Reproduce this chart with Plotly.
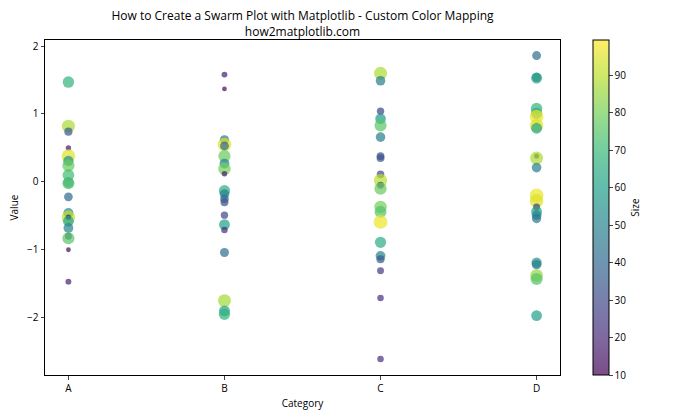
import numpy as np
import plotly.graph_objects as go
import plotly.express as px

categories = ["A", "B", "C", "D"]

values_A = [1.47, 0.82, 0.74, 0.50, 0.38, 0.31, 0.24, 0.10, -0.01, -0.02,
            -0.22, -0.46, -0.52, -0.52, -0.58, -0.68, -0.80, -0.83, -1.00, -1.47]
sizes_A = [68, 88, 35, 15, 95, 55, 78, 72, 58, 75,
           40, 52, 92, 14, 62, 50, 25, 76, 12, 18]

values_B = [1.58, 1.37, 0.62, 0.55, 0.53, 0.38, 0.27, 0.19, 0.12, -0.13,
            -0.18, -0.25, -0.30, -0.49, -0.63, -0.71, -1.04, -1.75, -1.90, -1.95]
sizes_B = [18, 12, 45, 95, 40, 78, 50, 80, 16, 66,
           48, 40, 33, 28, 60, 22, 42, 87, 62, 67]

values_C = [1.60, 1.49, 1.04, 0.93, 0.83, 0.66, 0.38, 0.35, 0.11, 0.02,
            -0.05, -0.10, -0.37, -0.44, -0.59, -0.89, -1.09, -1.14, -1.31, -1.71, -2.61]
sizes_C = [88, 48, 28, 58, 76, 48, 32, 33, 30, 90,
           24, 78, 80, 75, 97, 65, 50, 35, 25, 22, 22]

values_D = [1.86, 1.54, 1.53, 1.08, 1.01, 0.96, 0.83, 0.79, 0.38, 0.35,
            0.21, -0.20, -0.28, -0.37, -0.44, -0.49, -0.54, -1.19, -1.22, -1.38,
            -1.43, -1.97]
sizes_D = [42, 45, 62, 68, 65, 97, 95, 62, 14, 88,
           48, 97, 95, 25, 62, 50, 45, 55, 48, 85,
           75, 60]

xs, ys, ss = [], [], []
for cat, v, s in zip(categories, [values_A, values_B, values_C, values_D],
                     [sizes_A, sizes_B, sizes_C, sizes_D]):
    xs += [cat] * len(v)
    ys += v
    ss += s

# viridis with alpha 0.7 (matplotlib alpha=0.7 also affects the colorbar)
vir = px.colors.sequential.Viridis
def to_rgba(h, a=0.7):
    h = h.lstrip("#")
    return f"rgba({int(h[0:2],16)},{int(h[2:4],16)},{int(h[4:6],16)},{a})"
cscale = [[i / (len(vir) - 1), to_rgba(c)] for i, c in enumerate(vir)]

marker_px = [np.sqrt(s) * 100 / 72 for s in ss]

fig = go.Figure(go.Scatter(
    x=xs, y=ys, mode="markers",
    marker=dict(
        size=marker_px, sizemode="diameter", opacity=1,
        color=ss, colorscale=cscale, cmin=10, cmax=99.5,
        line=dict(width=0),
        colorbar=dict(
            title=dict(text="Size", side="right", font=dict(size=10)),
            thickness=16, len=1, lenmode="fraction", y=0, yanchor="bottom",
            x=1.064, xanchor="left", xpad=0, ypad=0,
            tickvals=[10, 20, 30, 40, 50, 60, 70, 80, 90],
            ticks="outside", ticklen=3.5, tickfont=dict(size=10),
            outlinewidth=1, outlinecolor="black",
        ),
    ),
    showlegend=False,
))

fig.update_layout(
    width=700, height=420,
    margin=dict(l=45, r=140, t=40, b=43),
    paper_bgcolor="white", plot_bgcolor="white",
    font=dict(family="Open Sans, DejaVu Sans, sans-serif", size=10, color="black"),
    title=dict(text="How to Create a Swarm Plot with Matplotlib - Custom Color Mapping<br>how2matplotlib.com",
               x=0.5, xref="paper", xanchor="center", y=1 - 20 / 420, yref="container",
               yanchor="middle", font=dict(size=12)),
    xaxis=dict(title=dict(text="Category", font=dict(size=10), standoff=6),
               categoryorder="array", categoryarray=categories,
               range=[-0.15, 3.15], showline=True, mirror=True, linecolor="black",
               linewidth=1, ticks="outside", ticklen=3.5, showgrid=False, zeroline=False),
    yaxis=dict(title=dict(text="Value", font=dict(size=10), standoff=6),
               range=[-2.845, 2.09], tickvals=[-2, -1, 0, 1, 2],
               showline=True, mirror=True, linecolor="black", linewidth=1,
               ticks="outside", ticklen=3.5, showgrid=False, zeroline=False),
)

fig.write_html("out.html")
